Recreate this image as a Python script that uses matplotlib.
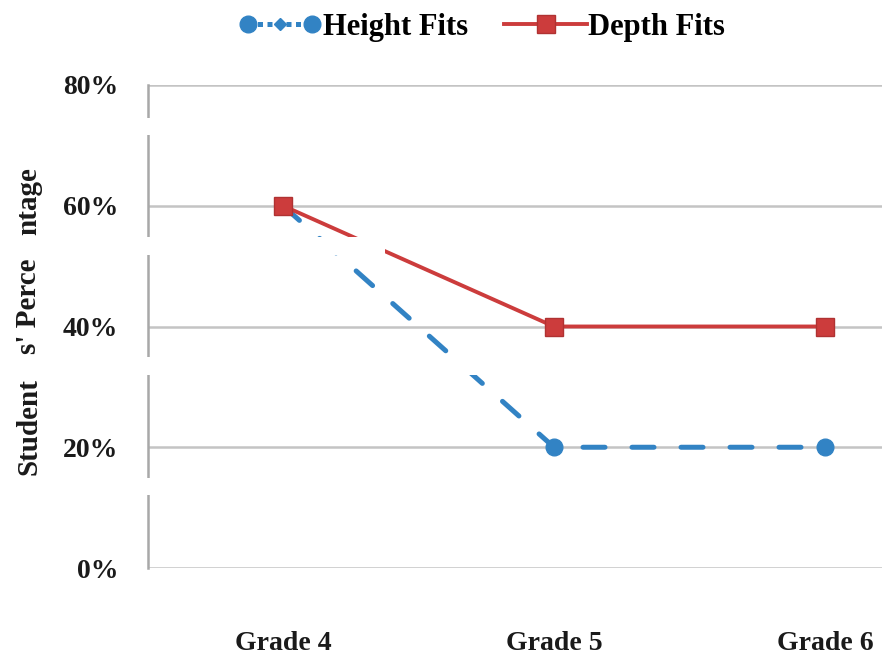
import matplotlib
matplotlib.use("Agg")
import matplotlib.pyplot as plt
from matplotlib.legend_handler import HandlerLine2D, HandlerTuple
from matplotlib.lines import Line2D
from matplotlib.patches import Rectangle

grades = ["Grade 4", "Grade 5", "Grade 6"]
height_fits = [0.60, 0.20, 0.20]
depth_fits = [0.60, 0.40, 0.40]
y_ticks = [0.0, 0.2, 0.4, 0.6, 0.8]
y_tick_labels = ["0%", "20%", "40%", "60%", "80%"]

BLUE = "#3283c4"
RED = "#cc3c3c"
GRID = "#c4c4c4"
FONT = "Liberation Serif"

W, H = 882, 658


def fx(px):
    return px / W


def fy(py):
    return 1 - py / H


def main():
    fig = plt.figure(figsize=(W / 100, H / 100), dpi=100)
    # plot area: left edge at the axis line, right edge runs off the figure
    ax = fig.add_axes([fx(147.5), fy(568), 813 / W, (568 - 85) / H])

    x = [i + 0.5 for i in range(len(grades))]
    ax.plot(x, height_fits, color=BLUE, lw=3.6, dashes=(4.4, 5.4),
            marker="o", ms=12, mfc=BLUE, mec=BLUE, zorder=3,
            dash_capstyle="round")
    red, = ax.plot(x, depth_fits, color=RED, lw=2.8, marker="s", ms=13,
                   mfc=RED, mec="#b03232", label="Depth Fits", zorder=4)

    ax.set_xlim(0, 3)
    ax.set_ylim(0, 0.8)
    ax.set_xticks(x)
    ax.set_xticklabels(grades)
    ax.set_yticks(y_ticks)
    ax.set_yticklabels(y_tick_labels)
    ax.tick_params(axis="x", length=0, pad=45)
    ax.tick_params(axis="y", length=0, pad=21)
    for lab in ax.get_xticklabels() + ax.get_yticklabels():
        lab.set_fontfamily(FONT)
        lab.set_fontweight("bold")
        lab.set_fontsize(20)
        lab.set_color("#1a1a1a")

    ax.grid(axis="y", color=GRID, lw=1.8)
    ax.set_axisbelow(True)
    for side in ["top", "right", "bottom"]:
        ax.spines[side].set_visible(False)
    ax.spines["left"].set_color("#a8a8a8")
    ax.spines["left"].set_linewidth(1.8)

    # legend key for the blue series: circles at the ends, small diamond inside
    blue_ends = Line2D([], [], color=BLUE, lw=3.6, dashes=(1.0, 0.9),
                       marker="o", ms=12, mfc=BLUE, mec=BLUE)
    blue_mid = Line2D([], [], ls="none", marker="D", ms=6, mfc=BLUE, mec=BLUE)
    fig.legend(handles=[(blue_ends, blue_mid), red],
               labels=["Height Fits", "Depth Fits"], loc="center", ncol=2,
               bbox_to_anchor=(fx(482), fy(27)), frameon=False,
               prop={"family": FONT, "weight": "bold", "size": 22},
               handlelength=2.7, handletextpad=0.05, columnspacing=1.2,
               handler_map={blue_ends: HandlerLine2D(numpoints=2),
                            blue_mid: HandlerLine2D(numpoints=1),
                            red: HandlerLine2D(numpoints=1),
                            tuple: HandlerTuple(ndivide=1, pad=0)})

    # white strips across the scan
    strips = [(118, 135, 0, W), (237, 255, 0, 385),
              (357, 375, 0, 480), (478, 495, 0, W)]
    for top, bot, left, right in strips:
        fig.add_artist(Rectangle((fx(left), fy(bot)), fx(right - left),
                                 (bot - top) / H, transform=fig.transFigure,
                                 facecolor="white", edgecolor="none",
                                 zorder=10))

    # axis title, split by the strips
    for text, cy in [("Student", 427), ("s' Perce", 306), ("ntage", 201)]:
        fig.text(fx(29), fy(cy), text, rotation=90, ha="center", va="center",
                 family=FONT, weight="bold", size=21, color="#1a1a1a",
                 zorder=11)

    fig.savefig("out.png", dpi=100)


if __name__ == "__main__":
    main()
